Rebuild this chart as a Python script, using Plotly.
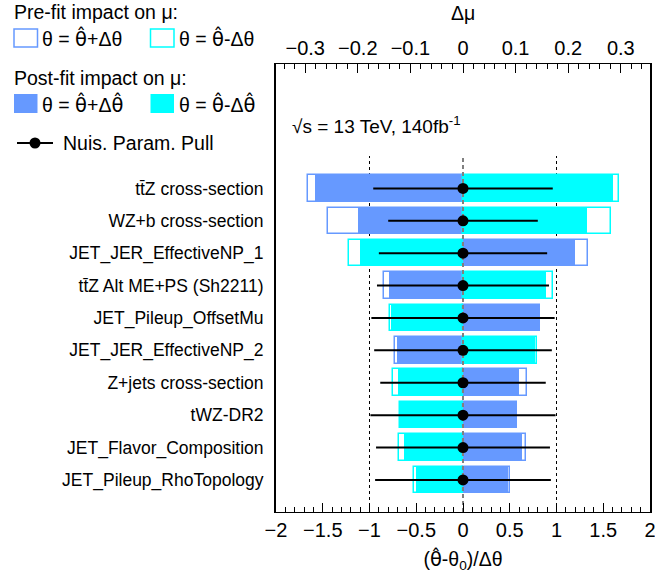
import plotly.graph_objects as go

# Nuisance parameters, top to bottom in ranking order
params = [
    "tt̄Z cross-section",
    "WZ+b cross-section",
    "JET_JER_EffectiveNP_1",
    "tt̄Z Alt ME+PS (Sh2211)",
    "JET_Pileup_OffsetMu",
    "JET_JER_EffectiveNP_2",
    "Z+jets cross-section",
    "tWZ-DR2",
    "JET_Flavor_Composition",
    "JET_Pileup_RhoTopology",
]

# Impact on mu (delta mu)
prefit_up = [-0.294, -0.257, 0.237, -0.150, 0.146, -0.130, 0.122, 0.103, 0.120, 0.089]
prefit_down = [0.297, 0.281, -0.216, 0.171, -0.139, 0.141, -0.134, -0.120, -0.121, -0.093]
postfit_up = [-0.282, -0.199, 0.212, -0.140, 0.145, -0.126, 0.106, 0.103, 0.112, 0.085]
postfit_down = [0.285, 0.236, -0.195, 0.157, -0.137, 0.136, -0.123, -0.120, -0.113, -0.090]

# Pulls (theta_hat - theta_0)/delta_theta and constraints
pull = [0, 0, 0, 0, 0, 0, 0, 0, 0, 0]
pull_err = [0.96, 0.80, 0.90, 0.92, 0.98, 0.95, 0.885, 0.99, 0.93, 0.94]

BLUE = "rgb(102,153,255)"
CYAN = "rgb(0,255,255)"
FONT = "Liberation Sans, Arial, Helvetica, sans-serif"
# a font with proper mark positioning for the combining hat
HAT = '<span style="font-family:DejaVu Sans">θ̂</span>'

W, H = 655, 581
ML, MR, MT, MB = 276, 5, 64, 69
PW, PH = W - ML - MR, H - MT - MB

ypos = list(range(len(params) - 1, -1, -1))
YMIN, YMAX = -0.99, 12.84
BAR_W = 0.82


def fx(x):
    return (x - ML) / PW


def fy(y):
    return (H - MB - y) / PH


fig = go.Figure()

# post-fit impacts (filled)
fig.add_trace(go.Bar(x=postfit_up, y=ypos, base=0, orientation="h", width=BAR_W,
                     marker=dict(color=BLUE, line=dict(width=0)),
                     xaxis="x", yaxis="y", showlegend=False))
fig.add_trace(go.Bar(x=postfit_down, y=ypos, base=0, orientation="h", width=BAR_W,
                     marker=dict(color=CYAN, line=dict(width=0)),
                     xaxis="x", yaxis="y", showlegend=False))
# pre-fit impacts (outlined)
fig.add_trace(go.Bar(x=prefit_up, y=ypos, base=0, orientation="h", width=BAR_W,
                     marker=dict(color="rgba(0,0,0,0)", line=dict(color=BLUE, width=1.5)),
                     xaxis="x", yaxis="y", showlegend=False))
fig.add_trace(go.Bar(x=prefit_down, y=ypos, base=0, orientation="h", width=BAR_W,
                     marker=dict(color="rgba(0,0,0,0)", line=dict(color=CYAN, width=1.5)),
                     xaxis="x", yaxis="y", showlegend=False))

# zero reference line on the pull axis
fig.add_trace(go.Scatter(x=[0, 0], y=[YMIN, 10.0], mode="lines",
                         line=dict(color="gray", width=2, dash="4px,3px"),
                         xaxis="x2", yaxis="y", showlegend=False, hoverinfo="skip"))

# nuisance parameter pulls
fig.add_trace(go.Scatter(x=pull, y=ypos, mode="markers",
                         marker=dict(color="black", size=11),
                         error_x=dict(type="data", array=pull_err, color="black",
                                      thickness=2, width=0),
                         xaxis="x2", yaxis="y", showlegend=False))

# +-1 sigma guide lines
for xv in (-1, 1):
    fig.add_shape(type="line", xref="x2", yref="y", x0=xv, x1=xv, y0=YMIN, y1=10.0,
                  line=dict(color="black", width=1, dash="3px,3px"), layer="below")

# legend drawn in the left margin
legend_shapes = [
    dict(type="rect", x0=fx(14), x1=fx(37.5), y0=fy(47), y1=fy(29),
         line=dict(color=BLUE, width=1.5), fillcolor="white"),
    dict(type="rect", x0=fx(150.5), x1=fx(174), y0=fy(47), y1=fy(29),
         line=dict(color=CYAN, width=1.5), fillcolor="white"),
    dict(type="rect", x0=fx(14), x1=fx(37.5), y0=fy(113), y1=fy(94),
         line=dict(width=0), fillcolor=BLUE),
    dict(type="rect", x0=fx(150.5), x1=fx(174), y0=fy(113), y1=fy(94),
         line=dict(width=0), fillcolor=CYAN),
    dict(type="line", x0=fx(17), x1=fx(53), y0=fy(143), y1=fy(143),
         line=dict(color="black", width=2)),
    dict(type="circle", x0=fx(29.5), x1=fx(40.5), y0=fy(148.5), y1=fy(137.5),
         line=dict(color="black", width=0), fillcolor="black"),
]
for s in legend_shapes:
    fig.add_shape(xref="paper", yref="paper", layer="above", **s)

legend_text = [
    ("Pre-fit impact on μ:", 12, 12),
    (f"θ = {HAT}+Δθ", 40, 38),
    (f"θ = {HAT}-Δθ", 177, 38),
    ("Post-fit impact on μ:", 12, 78),
    (f"θ = {HAT}+Δ{HAT}", 40, 104),
    (f"θ = {HAT}-Δ{HAT}", 177, 104),
    ("Nuis. Param. Pull", 61, 143),
]
for txt, x, y in legend_text:
    fig.add_annotation(text=txt, xref="paper", yref="paper", x=fx(x), y=fy(y),
                       xanchor="left", yanchor="middle", showarrow=False,
                       font=dict(size=19.5, color="black", family=FONT))

fig.add_annotation(text="√s = 13 TeV, 140fb<sup>-1</sup>", xref="paper", yref="paper",
                   x=fx(290), y=fy(125), xanchor="left", yanchor="middle", showarrow=False,
                   font=dict(size=19, color="black", family=FONT))

# title of the upper (impact) axis
fig.add_annotation(text="Δμ", xref="paper", yref="paper", x=0.5, y=fy(13),
                   xanchor="center", yanchor="middle", showarrow=False,
                   font=dict(size=19.5, color="black", family=FONT))

fig.update_layout(
    width=W, height=H,
    margin=dict(l=ML, r=MR, t=MT, b=MB, pad=0, autoexpand=False),
    paper_bgcolor="white", plot_bgcolor="white",
    barmode="overlay", bargap=0,
    font=dict(family=FONT, size=19, color="black"),
    xaxis=dict(
        side="top", range=[-0.3555, 0.3555], tickmode="linear", tick0=0, dtick=0.1,
        ticks="inside", ticklen=9, tickwidth=1, tickcolor="black", automargin=False,
        ticklabeloverflow="allow",
        minor=dict(tickmode="linear", tick0=0, dtick=0.02, ticks="inside", ticklen=5,
                   tickwidth=1, tickcolor="black"),
        showgrid=False, zeroline=False, showline=True, linecolor="black", linewidth=1,
        tickfont=dict(size=20),
    ),
    xaxis2=dict(
        overlaying="x", side="bottom", range=[-2, 2], tickmode="linear", tick0=0, dtick=0.5,
        ticks="inside", ticklen=9, tickwidth=1, tickcolor="black", automargin=False,
        ticklabeloverflow="allow",
        minor=dict(tickmode="linear", tick0=0, dtick=0.1, ticks="inside", ticklen=5,
                   tickwidth=1, tickcolor="black"),
        showgrid=False, zeroline=False, showline=True, linecolor="black", linewidth=1,
        tickfont=dict(size=20),
        title=dict(text=f"({HAT}-θ<sub>0</sub>)/Δθ", font=dict(size=19.5), standoff=12),
    ),
    yaxis=dict(
        range=[YMIN, YMAX], tickmode="array", tickvals=ypos, ticktext=params,
        ticks="", showgrid=False, zeroline=False, showline=True, mirror=True,
        linecolor="black", linewidth=2, tickfont=dict(size=17.5), ticklabelstandoff=7,
        automargin=False,
    ),
)

fig.write_html("out.html")
